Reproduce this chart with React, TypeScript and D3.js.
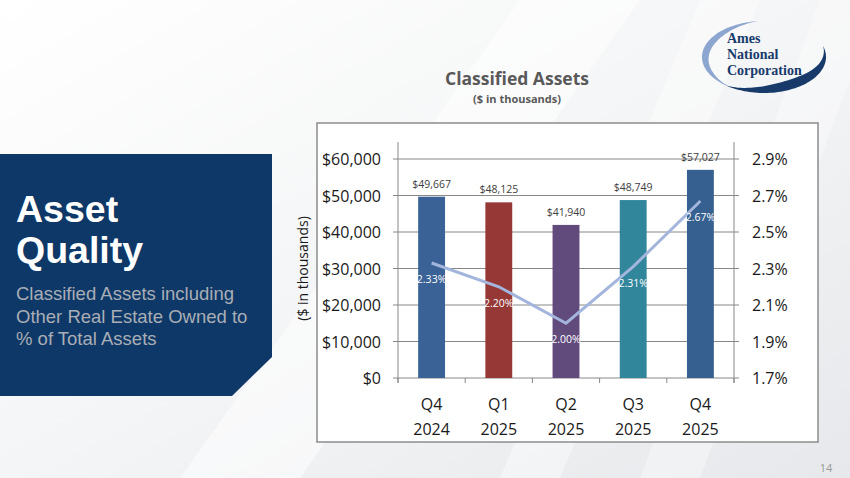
import React from "react";
import * as d3 from "d3";

const categories = ["Q4\n2024", "Q1\n2025", "Q2\n2025", "Q3\n2025", "Q4\n2025"];
const assetValues = [49667, 48125, 41940, 48749, 57027];
const pctValues = [2.33, 2.2, 2.0, 2.31, 2.67];
const barColors = ["#3a6296", "#953836", "#614a7c", "#31869b", "#36608f"];
const leftTicks = [0, 10000, 20000, 30000, 40000, 50000, 60000];
const rightTicks = [1.7, 1.9, 2.1, 2.3, 2.5, 2.7, 2.9];

const W = 850;
const H = 478;
const plot = { left: 398, right: 734, top: 159, bottom: 378 };

function crescent(cx: number, cy: number, rx: number, ry: number, t0: number, t1: number, maxW: number) {
  const n = 60;
  const outer: [number, number][] = [];
  const inner: [number, number][] = [];
  for (let i = 0; i <= n; i++) {
    const f = i / n;
    const t = ((t0 + (t1 - t0) * f) * Math.PI) / 180;
    const w = maxW * Math.pow(Math.sin(Math.PI * f), 1.2);
    outer.push([cx + rx * Math.cos(t), cy + ry * Math.sin(t)]);
    inner.push([cx + (rx - w) * Math.cos(t), cy + (ry - w) * Math.sin(t)]);
  }
  const pts = outer.concat(inner.reverse());
  return (d3.line()(pts) || "") + "Z";
}

export default function App() {
  const x = d3.scaleBand<string>().domain(categories).range([plot.left, plot.right]).paddingInner(0.6).paddingOuter(0.3);
  const xOuter = d3.scaleBand<string>().domain(categories).range([plot.left, plot.right]);
  const yL = d3.scaleLinear().domain([0, 60000]).range([plot.bottom, plot.top]);
  const yR = d3.scaleLinear().domain([1.7, 2.9]).range([plot.bottom, plot.top]);
  const fmtMoney = (v: number) => "$" + d3.format(",")(v);
  const line = d3
    .line<number>()
    .x((_, i) => (xOuter(categories[i]) as number) + xOuter.bandwidth() / 2)
    .y((d) => yR(d));

  const font = "'Open Sans', sans-serif";
  const tickPos = categories.map((c) => xOuter(c) as number).concat([plot.right]);

  return (
    <svg width={W} height={H} style={{ position: "absolute", left: 0, top: 0 }}>
      <defs>
        <linearGradient id="bg" x1="0" y1="0" x2="1" y2="1">
          <stop offset="0" stopColor="#ffffff" />
          <stop offset="0.5" stopColor="#f4f5f6" />
          <stop offset="1" stopColor="#e6e8eb" />
        </linearGradient>
      </defs>
      <rect x={0} y={0} width={W} height={H} fill="url(#bg)" />
      <polygon points="520,0 640,0 300,478 180,478" fill="#ffffff" opacity={0.5} />
      <polygon points="700,0 760,0 560,478 500,478" fill="#ffffff" opacity={0.4} />
      <polygon points="820,0 850,0 850,80 700,478 640,478" fill="#ffffff" opacity={0.35} />

      {/* left panel */}
      <polygon points="0,154 272,154 272,357 232,396 0,396" fill="#0e3867" />
      <text x={16} y={222} fill="#ffffff" fontFamily="'Liberation Sans', Arial, sans-serif" fontWeight="bold" fontSize={37.5}>
        Asset
      </text>
      <text x={16} y={263} fill="#ffffff" fontFamily="'Liberation Sans', Arial, sans-serif" fontWeight="bold" fontSize={37.5}>
        Quality
      </text>
      {["Classified Assets including", "Other Real Estate Owned to", "% of Total Assets"].map((s, i) => (
        <text key={i} x={16} y={300 + i * 22.5} fill="#a9aeb6" fontFamily="'Liberation Sans', Arial, sans-serif" fontSize={18.5}>
          {s}
        </text>
      ))}

      {/* logo */}
      <path d={crescent(764, 57, 62, 36, -95, -238, 7)} fill="#8da6cf" />
      <path d={crescent(764, 57, 62, 36, -18, 128, 10)} fill="#173a6b" />
      {["Ames", "National", "Corporation"].map((s, i) => (
        <text key={s} x={727} y={43 + i * 16} fill="#173a6b" fontFamily="'Liberation Serif', 'DejaVu Serif', serif" fontWeight="bold" fontSize={14}>
          {s}
        </text>
      ))}

      {/* titles */}
      <text x={517} y={85} textAnchor="middle" fill="#595959" fontFamily={font} fontWeight="bold" fontSize={17.5}>
        Classified Assets
      </text>
      <text x={517} y={103} textAnchor="middle" fill="#595959" fontFamily={font} fontWeight="bold" fontSize={11}>
        ($ in thousands)
      </text>

      {/* chart box */}
      <rect x={317} y={123} width={501} height={319} fill="#ffffff" stroke="#8c8c8c" strokeWidth={1.5} />

      {/* gridlines */}
      {leftTicks.map((t) => (
        <line key={t} x1={plot.left - 5} x2={plot.right + 5} y1={yL(t)} y2={yL(t)} stroke="#888888" strokeWidth={1} />
      ))}
      <line x1={plot.left} x2={plot.left} y1={plot.top - 17} y2={plot.bottom + 5} stroke="#888888" />
      <line x1={plot.right} x2={plot.right} y1={plot.top - 17} y2={plot.bottom + 5} stroke="#888888" />
      {tickPos.map((p, i) => (
        <line key={i} x1={p} x2={p} y1={plot.bottom} y2={plot.bottom + 5} stroke="#888888" />
      ))}

      {/* left axis labels */}
      {leftTicks.map((t) => (
        <text key={t} x={381} y={yL(t) + 6} textAnchor="end" fill="#1a1a1a" fontFamily={font} fontSize={16}>
          {fmtMoney(t)}
        </text>
      ))}
      {/* right axis labels */}
      {rightTicks.map((t) => (
        <text key={t} x={752} y={yR(t) + 6} fill="#1a1a1a" fontFamily={font} fontSize={16}>
          {t.toFixed(1) + "%"}
        </text>
      ))}
      <text
        transform={`translate(308, ${(plot.top + plot.bottom) / 2}) rotate(-90)`}
        textAnchor="middle"
        fill="#1a1a1a"
        fontFamily={font}
        fontSize={14}
      >
        ($ in thousands)
      </text>

      {/* x labels */}
      {categories.map((c) => {
        const cx = (xOuter(c) as number) + xOuter.bandwidth() / 2;
        const [a, b] = c.split("\n");
        return (
          <g key={c}>
            <text x={cx} y={410} textAnchor="middle" fill="#1a1a1a" fontFamily={font} fontSize={16}>
              {a}
            </text>
            <text x={cx} y={435} textAnchor="middle" fill="#1a1a1a" fontFamily={font} fontSize={16}>
              {b}
            </text>
          </g>
        );
      })}

      {/* bars */}
      {assetValues.map((v, i) => (
        <g key={i}>
          <rect
            x={x(categories[i]) as number}
            y={yL(v)}
            width={x.bandwidth()}
            height={plot.bottom - yL(v)}
            fill={barColors[i]}
          />
          <text
            x={(x(categories[i]) as number) + x.bandwidth() / 2}
            y={yL(v) - 9}
            textAnchor="middle"
            fill="#404040"
            fontFamily={font}
            fontSize={10.5}
          >
            {fmtMoney(v)}
          </text>
        </g>
      ))}

      {/* line */}
      <path d={line(pctValues) || ""} fill="none" stroke="#a3b5dc" strokeWidth={3} />
      {pctValues.map((p, i) => (
        <text
          key={i}
          x={(xOuter(categories[i]) as number) + xOuter.bandwidth() / 2}
          y={yR(p) + 20}
          textAnchor="middle"
          fill="#ffffff"
          fontFamily={font}
          fontSize={10.5}
        >
          {p.toFixed(2) + "%"}
        </text>
      ))}

      <text x={826} y={472} textAnchor="middle" fill="#9a9a9a" fontFamily={font} fontSize={11}>
        14
      </text>
    </svg>
  );
}
